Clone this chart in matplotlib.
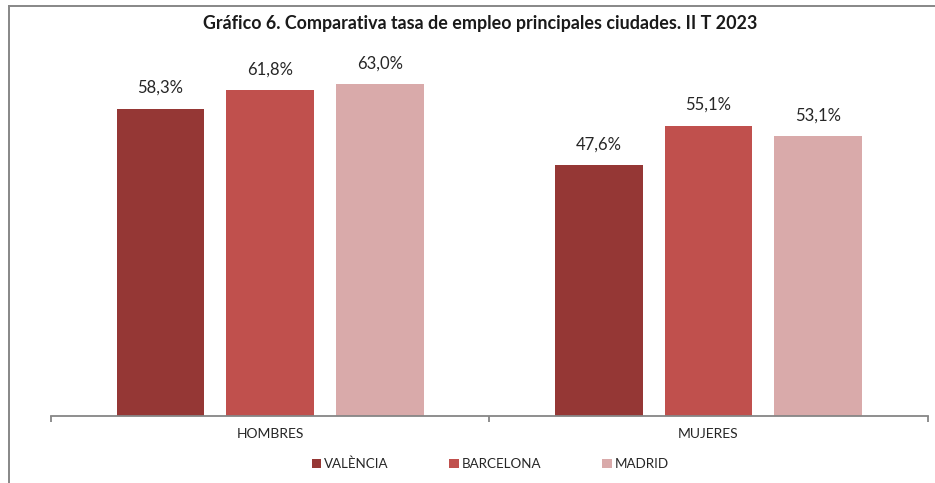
import matplotlib
matplotlib.use("Agg")
import matplotlib.pyplot as plt
from matplotlib.patches import Patch
from matplotlib.lines import Line2D
import numpy as np

plt.rcParams['font.family'] = ['Lato', 'DejaVu Sans']

title = "Gráfico 6. Comparativa tasa de empleo principales ciudades. II T 2023"
categories = ["HOMBRES", "MUJERES"]
series_names = ["VALÈNCIA", "BARCELONA", "MADRID"]
valencia = [58.3, 47.6]
barcelona = [61.8, 55.1]
madrid = [63.0, 53.1]
colors = ["#953735", "#C0504D", "#D9AAAA"]

W, H = 935, 483
fig = plt.figure(figsize=(W / 100, H / 100), dpi=100)
ax_left, ax_right, ax_bottom_px, ax_top_px = 51, 927.5, 415.5, 40
ax = fig.add_axes([ax_left / W, (H - ax_bottom_px) / H,
                   (ax_right - ax_left) / W, (ax_bottom_px - ax_top_px) / H])

x = np.arange(len(categories))
width = 0.2
offsets = [-0.25, 0.0, 0.25]
for vals, off, col, name in zip([valencia, barcelona, madrid], offsets, colors, series_names):
    bars = ax.bar(x + off, vals, width, color=col, label=name)
    for b, v in zip(bars, vals):
        ax.annotate(f"{v:.1f}%".replace(".", ","),
                    (b.get_x() + b.get_width() / 2, v),
                    xytext=(0, 11.3), textcoords="offset points",
                    ha="center", va="baseline", fontsize=12, color="#262626")

ax.set_xlim(-0.5, 1.5)
ax.set_ylim(0, (ax_bottom_px - ax_top_px) / 5.262)
for s in ["top", "right", "left"]:
    ax.spines[s].set_visible(False)
ax.spines["bottom"].set_color("#868686")
ax.spines["bottom"].set_linewidth(1.3)
ax.set_yticks([])
ax.set_xticks([-0.5, 0.5, 1.5])
ax.set_xticklabels([])
ax.tick_params(axis="x", which="major", direction="out", length=4, width=1.3, color="#868686")
ax.set_xticks(x, minor=True)
ax.set_xticklabels(categories, minor=True)
ax.tick_params(axis="x", which="minor", length=0, pad=9.3, labelsize=10, labelcolor="#262626")

handles = [Patch(facecolor=c, edgecolor="none", label=n) for c, n in zip(colors, series_names)]
fig.legend(handles=handles, loc="center", bbox_to_anchor=(490 / W, (H - 464) / H),
           ncol=3, frameon=False, fontsize=9.6, handlelength=0.7, handleheight=0.7,
           handletextpad=0.2, columnspacing=4.6, labelcolor="#262626")

fig.text(480 / W, (H - 24) / H, title, ha="center", va="center",
         fontsize=12.9, fontweight="bold", color="#1a1a1a")

# outer chart frame (partially visible)
fig.add_artist(Line2D([9 / W, 9 / W], [0, (H - 6) / H], color="#878787", lw=1.4,
                      transform=fig.transFigure))
fig.add_artist(Line2D([9 / W, 1], [(H - 6) / H, (H - 6) / H], color="#878787", lw=1.4,
                      transform=fig.transFigure))

fig.savefig("out.png", dpi=100)
